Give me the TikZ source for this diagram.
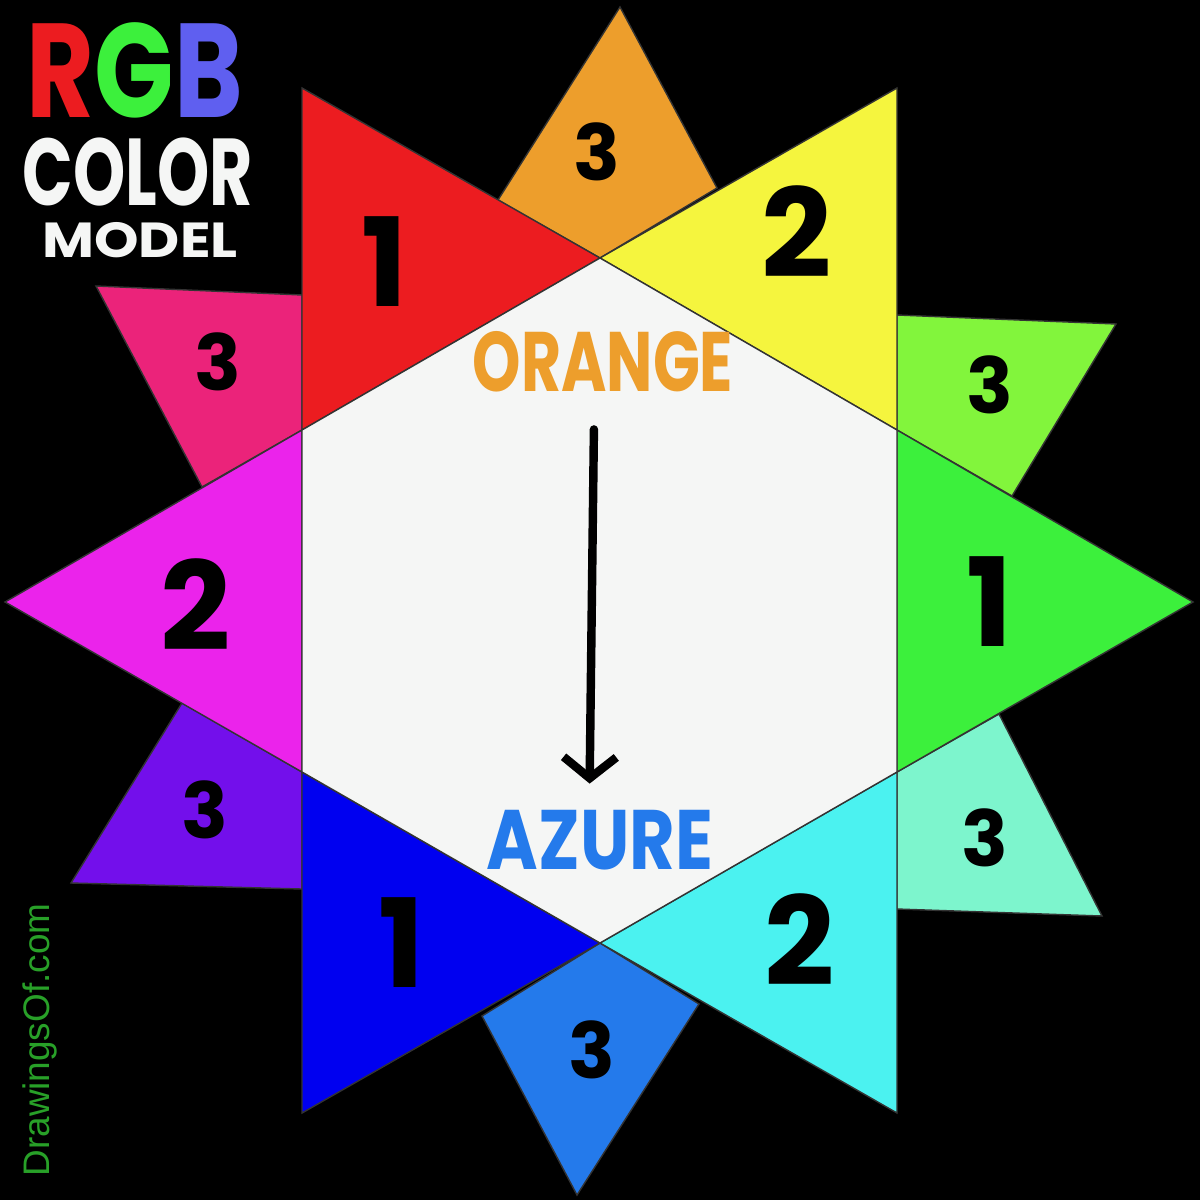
\documentclass[tikz,border=0pt]{standalone}
\usepackage{fontspec}
\setmainfont{Poppins}
\setsansfont{Liberation Sans}
\usepackage{graphicx}
\usetikzlibrary{arrows.meta, positioning}

\definecolor{cred}{RGB}{236,28,32}
\definecolor{corange}{RGB}{237,158,44}
\definecolor{cyellow}{RGB}{245,245,62}
\definecolor{cchart}{RGB}{130,245,60}
\definecolor{cgreen}{RGB}{60,240,60}
\definecolor{caqua}{RGB}{125,245,205}
\definecolor{ccyan}{RGB}{75,242,240}
\definecolor{cazure}{RGB}{36,122,235}
\definecolor{cblue}{RGB}{0,0,240}
\definecolor{cviolet}{RGB}{115,15,235}
\definecolor{cmagenta}{RGB}{235,35,235}
\definecolor{crose}{RGB}{235,35,122}
\definecolor{chex}{RGB}{245,246,245}
\definecolor{cbtitle}{RGB}{95,95,240}
\definecolor{csite}{RGB}{40,160,40}

\begin{document}
\begin{tikzpicture}[x=0.01cm, y=-0.01cm, ->, >={Straight Barb[length=6pt, width=15pt]}]
  \tikzstyle{edge} = [draw=black!80, line width=0.4pt]
  \tikzstyle{big} = [font=\fontsize{35}{35}\selectfont\bfseries, text=black]
  \tikzstyle{small} = [font=\fontsize{22}{22}\selectfont\bfseries, text=black]
  \tikzstyle{word} = [font=\fontsize{24}{24}\selectfont\bfseries]
  \tikzstyle{title} = [inner sep=0pt, text=chex]
  \fill[black] (0,0) rectangle (1200,1200);
  \useasboundingbox (0,0) rectangle (1200,1200);
  % hexagon and star points
  \coordinate (ht) at (600,258);
  \coordinate (hur) at (897,430);
  \coordinate (hlr) at (897,772);
  \coordinate (hb) at (600,943);
  \coordinate (hll) at (302,772);
  \coordinate (hul) at (302,430);
  \coordinate (sred) at (302,88);
  \coordinate (syel) at (897,88);
  \coordinate (sgrn) at (1193,602);
  \coordinate (scyn) at (897,1113);
  \coordinate (sblu) at (302,1113);
  \coordinate (smag) at (5,602);
  % tertiary colours
  \fill[corange, edge] (620,7) -- (498,200) -- (ht) -- (717,188) -- cycle;
  \fill[crose, edge] (96,286) -- (302,295) -- (hul) -- (202,487) -- cycle;
  \fill[cchart, edge] (897,315) -- (1116,324) -- (1012,496) -- (hur) -- cycle;
  \fill[caqua, edge] (hlr) -- (999,714) -- (1102,916) -- (897,909) -- cycle;
  \fill[cazure, edge] (hb) -- (699,1004) -- (577,1195) -- (482,1016) -- cycle;
  \fill[cviolet, edge] (hll) -- (302,889) -- (71,883) -- (182,703) -- cycle;
  % primary and secondary colours
  \fill[cred, edge] (sred) -- (ht) -- (hul) -- cycle;
  \fill[cyellow, edge] (syel) -- (hur) -- (ht) -- cycle;
  \fill[cgreen, edge] (sgrn) -- (hlr) -- (hur) -- cycle;
  \fill[ccyan, edge] (scyn) -- (hb) -- (hlr) -- cycle;
  \fill[cblue, edge] (sblu) -- (hll) -- (hb) -- cycle;
  \fill[cmagenta, edge] (smag) -- (hul) -- (hll) -- cycle;
  \fill[chex, edge] (ht) -- (hur) -- (hlr) -- (hb) -- (hll) -- (hul) -- cycle;
  % numbers
  \node[big] (nred) at (385,262) {1};
  \node[big] (nyel) at (797,232) {2};
  \node[big] (ngrn) at (990,602) {1};
  \node[big] (ncyn) at (800,940) {2};
  \node[big] (nblu) at (402,943) {1};
  \node[big] (nmag) at (196,605) {2};
  \node[small] (norg) at (597,152) {3};
  \node[small] (nros) at (218,362) {3};
  \node[small] (ncha) at (990,385) {3};
  \node[small] (nvio) at (205,810) {3};
  \node[small] (naqu) at (985,838) {3};
  \node[small] (nazu) at (592,1050) {3};
  % words
  \node[word, text=corange] (orange) at (603,362) {\scalebox{0.73}[1]{ORANGE}};
  \node[word, text=cazure] (azure) at (600,840) {\scalebox{0.83}[1]{AZURE}};
  \draw[line width=2.4pt, line cap=round, shorten <=7pt, shorten >=4pt]
    ([xshift=-2.5pt]orange.south) -- ([xshift=-3pt]azure.north);
  % title
  \node[title, font=\fontsize{38}{38}\selectfont\bfseries] (rgb) at (135,70)
    {\scalebox{0.78}[1]{\textcolor{cred}{R}\textcolor{cgreen}{G}\textcolor{cbtitle}{B}}};
  \node[title, font=\fontsize{27}{27}\selectfont\bfseries] (color) at (138,172) {\scalebox{0.7}[1]{COLOR}};
  \node[title, font=\fontsize{14}{14}\selectfont\bfseries] (model) at (140,240) {\scalebox{1.15}[1]{MODEL}};
  \node[font=\sffamily\fontsize{10.5}{10.5}\selectfont, text=csite, rotate=90] (site) at (40,1040) {DrawingsOf.com};
\end{tikzpicture}
\end{document}
